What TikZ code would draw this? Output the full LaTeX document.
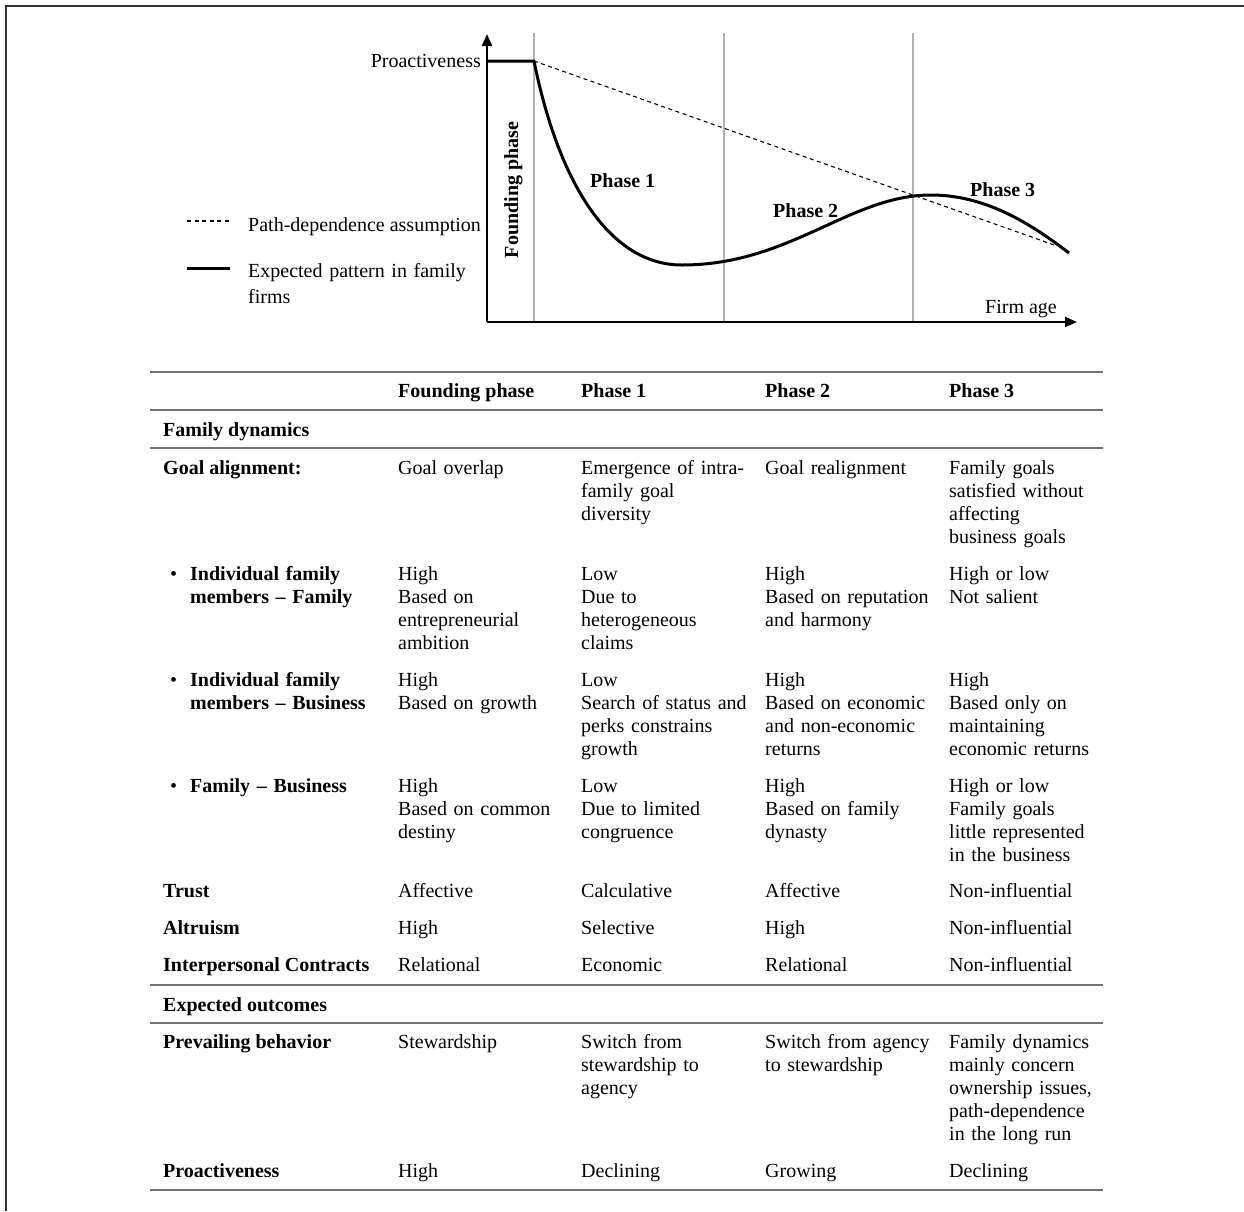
\documentclass[tikz,border=0pt]{standalone}
\usepackage{fontspec}
\setmainfont{Liberation Serif}
\usetikzlibrary{arrows.meta}
\begin{document}
\begin{tikzpicture}[x=1pt,y=-1pt,
  lbl/.style={inner sep=0pt, anchor=base west, font=\fontsize{20}{23}\selectfont},
  blbl/.style={lbl, font=\fontsize{20}{23}\selectfont\bfseries},
  txt/.style={inner sep=0pt, anchor=base west, text width=230pt, align=left, font=\fontsize{20}{23}\selectfont},
  btxt/.style={txt, font=\fontsize{20}{23}\selectfont\bfseries},
  tablerule/.style={line width=2.2pt, draw=black!55},
  axis/.style={line width=2.4pt, -{Triangle[length=12pt,width=10pt]}},
  guide/.style={draw=black!30, line width=1.2pt},
  curve/.style={line width=3pt, line join=round},
  pathdep/.style={dash pattern=on 4pt off 3.5pt, line width=1.1pt},
  frame/.style={draw=black!80, line width=1.6pt}]
\useasboundingbox (0,0) rectangle (1244,1211);
\draw[frame] (6,1211) -- (6,6) -- (1244,6);

% ---------- chart ----------
\coordinate (O) at (487,322);
\coordinate (Ytop) at (487,34);
\coordinate (Xend) at (1077,322);
\foreach \gx in {534,724,913} \draw[guide] (\gx,33) -- (\gx,322);
\draw[axis] (O) -- (Ytop);
\draw[axis] (O) -- (Xend);
\coordinate (P0) at (487,61);
\coordinate (P1) at (534,61);
\coordinate (Pend) at (1069,253);
\coordinate (Dend) at (1057,246);
\draw[pathdep] (P1) -- (Dend);
\draw[curve] (P0) -- (P1) .. controls (558,180) and (608,265) .. (682,265)
  .. controls (790,265) and (850,195) .. (931,195)
  .. controls (985,195) and (1030,223) .. (Pend);

\node[lbl, anchor=base east] (proact) at (481,67) {Proactiveness};
\node[blbl, rotate=90, anchor=base] (foundlbl) at (518,190) {Founding phase};
\node[blbl] (ph1) at (590,187) {Phase 1};
\node[blbl] (ph2) at (773,217) {Phase 2};
\node[blbl] (ph3) at (970,196) {Phase 3};
\node[lbl] (firmage) at (985,313) {Firm age};

% legend
\coordinate (L1a) at (187,221);
\coordinate (L1b) at (230,221);
\coordinate (L2a) at (187,268);
\coordinate (L2b) at (230,268);
\draw[pathdep] (L1a) -- (L1b);
\draw[line width=3pt] (L2a) -- (L2b);
\node[lbl] (leg1) at (248,231) {Path-dependence assumption};
\node[txt, font=\fontsize{20}{26}\selectfont] (leg2) at (248,277) {Expected pattern in family\\firms};

% ---------- table ----------
\foreach \ry in {372,410,448,985,1023,1190} \draw[tablerule] (150,\ry) -- (1103,\ry);

% header
\node[blbl] (h2) at (398,397) {Founding phase};
\node[blbl] (h3) at (581,397) {Phase 1};
\node[blbl] (h4) at (765,397) {Phase 2};
\node[blbl] (h5) at (949,397) {Phase 3};

\node[blbl] (famdyn) at (163,436) {Family dynamics};

% goal alignment
\node[blbl] (ga1) at (163,474) {Goal alignment:};
\node[txt] (ga2) at (398,474) {Goal overlap};
\node[txt] (ga3) at (581,474) {Emergence of intra-\\family goal\\diversity};
\node[txt] (ga4) at (765,474) {Goal realignment};
\node[txt] (ga5) at (949,474) {Family goals\\satisfied without\\affecting\\business goals};

% individual - family
\node[lbl] (b1) at (170,580) {\textbullet};
\node[btxt] (if1) at (190,580) {Individual family\\members – Family};
\node[txt] (if2) at (398,580) {High\\Based on\\entrepreneurial\\ambition};
\node[txt] (if3) at (581,580) {Low\\Due to\\heterogeneous\\claims};
\node[txt] (if4) at (765,580) {High\\Based on reputation\\and harmony};
\node[txt] (if5) at (949,580) {High or low\\Not salient};

% individual - business
\node[lbl] (b2) at (170,686) {\textbullet};
\node[btxt] (ib1) at (190,686) {Individual family\\members – Business};
\node[txt] (ib2) at (398,686) {High\\Based on growth};
\node[txt] (ib3) at (581,686) {Low\\Search of status and\\perks constrains\\growth};
\node[txt] (ib4) at (765,686) {High\\Based on economic\\and non-economic\\returns};
\node[txt] (ib5) at (949,686) {High\\Based only on\\maintaining\\economic returns};

% family - business
\node[lbl] (b3) at (170,792) {\textbullet};
\node[btxt] (fb1) at (190,792) {Family – Business};
\node[txt] (fb2) at (398,792) {High\\Based on common\\destiny};
\node[txt] (fb3) at (581,792) {Low\\Due to limited\\congruence};
\node[txt] (fb4) at (765,792) {High\\Based on family\\dynasty};
\node[txt] (fb5) at (949,792) {High or low\\Family goals\\little represented\\in the business};

% trust / altruism / contracts
\node[blbl] (tr1) at (163,897) {Trust};
\node[lbl] (tr2) at (398,897) {Affective};
\node[lbl] (tr3) at (581,897) {Calculative};
\node[lbl] (tr4) at (765,897) {Affective};
\node[lbl] (tr5) at (949,897) {Non-influential};

\node[blbl] (al1) at (163,934) {Altruism};
\node[lbl] (al2) at (398,934) {High};
\node[lbl] (al3) at (581,934) {Selective};
\node[lbl] (al4) at (765,934) {High};
\node[lbl] (al5) at (949,934) {Non-influential};

\node[blbl] (ic1) at (163,971) {Interpersonal Contracts};
\node[lbl] (ic2) at (398,971) {Relational};
\node[lbl] (ic3) at (581,971) {Economic};
\node[lbl] (ic4) at (765,971) {Relational};
\node[lbl] (ic5) at (949,971) {Non-influential};

\node[blbl] (expout) at (163,1011) {Expected outcomes};

\node[blbl] (pb1) at (163,1048) {Prevailing behavior};
\node[txt] (pb2) at (398,1048) {Stewardship};
\node[txt] (pb3) at (581,1048) {Switch from\\stewardship to\\agency};
\node[txt] (pb4) at (765,1048) {Switch from agency\\to stewardship};
\node[txt] (pb5) at (949,1048) {Family dynamics\\mainly concern\\ownership issues,\\path-dependence\\in the long run};

\node[blbl] (pr1) at (163,1177) {Proactiveness};
\node[lbl] (pr2) at (398,1177) {High};
\node[lbl] (pr3) at (581,1177) {Declining};
\node[lbl] (pr4) at (765,1177) {Growing};
\node[lbl] (pr5) at (949,1177) {Declining};
\end{tikzpicture}
\end{document}
